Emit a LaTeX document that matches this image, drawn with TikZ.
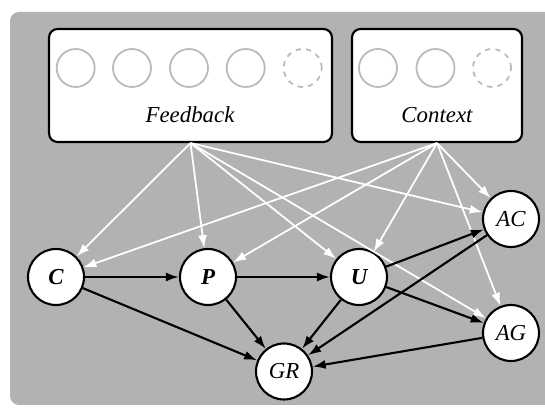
\documentclass[tikz,border=0pt]{standalone}
\usepackage{fontspec}
\setmainfont{Liberation Serif}
\usetikzlibrary{arrows.meta}
\begin{document}
\begin{tikzpicture}[x=0.02cm, y=-0.02cm,
        var/.style={draw, circle, fill=white, line width=1.2pt, minimum size=1.12cm, inner sep=0pt, font=\fontsize{13}{15}\selectfont\itshape},
        group/.style={draw, fill=white, rounded corners=0.17cm, line width=1.2pt, minimum height=2.26cm, inner sep=0pt},
        slot/.style={draw=black!27, circle, line width=1pt, minimum size=0.76cm, inner sep=0pt},
        infl/.style={white, line width=1pt, -{Latex[length=0.26cm, width=0.18cm]}},
        dep/.style={black, line width=1.2pt, -{Latex[length=0.26cm, width=0.18cm]}}]
    \useasboundingbox (0,0) rectangle (545,408);
    \fill[black!30, rounded corners=0.18cm] (10,12) rectangle (580,405);

    % observed groups
    \node[group, minimum width=5.66cm] (fb) at (190.5,85.5) {};
    \node[group, minimum width=3.40cm] (ctx) at (437,85.5) {};
    \foreach \x [count=\i] in {75.7,132,189,245.7}
        \node[slot] (fb\i) at (\x,68) {};
    \node[slot, dashed] (fb5) at (302.7,68) {};
    \foreach \x [count=\i] in {378,435.5}
        \node[slot] (ctx\i) at (\x,68) {};
    \node[slot, dashed] (ctx3) at (492,68) {};
    \node[font=\fontsize{13}{15}\selectfont\itshape] (fblabel) at (190,115) {Feedback};
    \node[font=\fontsize{13}{15}\selectfont\itshape] (ctxlabel) at (437,115) {Context};

    % latent variables
    \node[var, font=\fontsize{13}{15}\selectfont\bfseries\itshape] (C) at (56,277) {C};
    \node[var, font=\fontsize{13}{15}\selectfont\bfseries\itshape] (P) at (208,277) {P};
    \node[var, font=\fontsize{13}{15}\selectfont\bfseries\itshape] (U) at (359,277) {U};
    \node[var] (AC) at (511,219) {AC};
    \node[var] (AG) at (511,333) {AG};
    \node[var] (GR) at (284,371.5) {GR};

    \foreach \t in {C,P,U,AC,AG} {
        \draw[infl] (fb.south) -- (\t);
        \draw[infl] (ctx.south) -- (\t);
    }

    \draw[dep] (C) -- (P);
    \draw[dep] (P) -- (U);
    \draw[dep] (C) -- (GR);
    \draw[dep] (P) -- (GR);
    \draw[dep] (U) -- (GR);
    \draw[dep] (U) -- (AC);
    \draw[dep] (U) -- (AG);
    \draw[dep] (AC) -- (GR);
    \draw[dep] (AG) -- (GR);
\end{tikzpicture}
\end{document}
